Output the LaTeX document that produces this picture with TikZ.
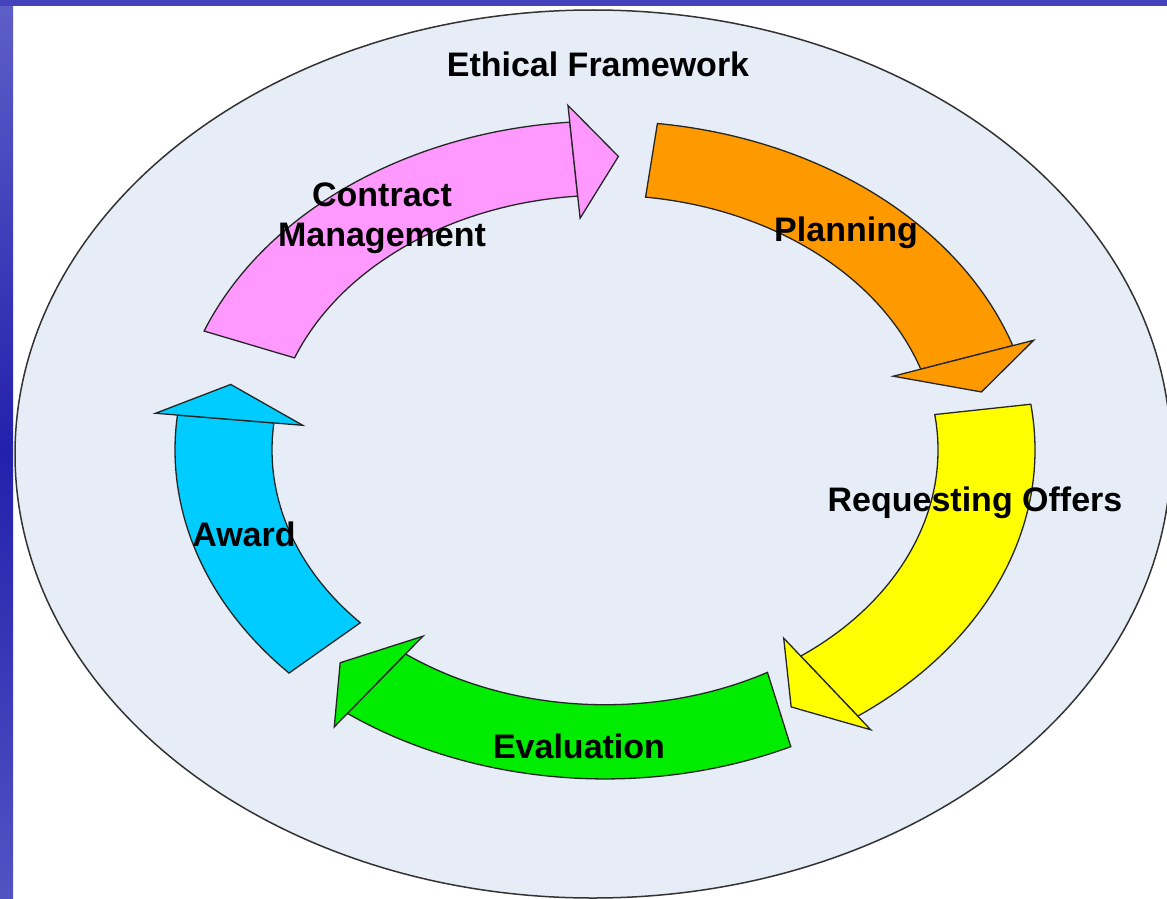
\documentclass[tikz,border=0pt]{standalone}
\usepackage{fontspec}
\setmainfont{Liberation Sans}
\definecolor{bgell}{RGB}{230,237,247}
\definecolor{pinkseg}{RGB}{255,153,255}
\definecolor{orangeseg}{RGB}{255,153,0}
\definecolor{yellowseg}{RGB}{255,255,0}
\definecolor{greenseg}{RGB}{0,236,0}
\definecolor{blueseg}{RGB}{0,204,255}
\definecolor{frameblueA}{RGB}{95,95,200}
\definecolor{frameblueB}{RGB}{35,32,172}
\definecolor{frameblueC}{RGB}{68,66,188}
\tikzset{
  segstyle/.style={draw=black!85, line width=1.3pt, line join=miter},
  lbl/.style={font=\bfseries\fontsize{34}{40}\selectfont, text=black, inner sep=0pt, align=center}
}
% #1 colour, #2 outer start angle, #3 inner start angle, #4 head base angle, #5 tip angle
\newcommand{\arrseg}[5]{%
  \filldraw[segstyle, fill=#1] (#2:430) arc[start angle=#2, end angle=#4, radius=430] -- (#4:333) arc[start angle=#4, end angle=#3, radius=333] -- cycle;
  \filldraw[segstyle, fill=#1] (#4:452) -- (#5:384) -- (#4:304) -- cycle;
}
\begin{document}
\begin{tikzpicture}[x=1pt,y=-1pt]
\useasboundingbox (0,0) rectangle (1167,899);
\clip (0,0) rectangle (1167,899);
% frame
\fill[white] (0,0) rectangle (1167,899);
\shade[top color=frameblueA, bottom color=frameblueB] (0,0) rectangle (13,450);
\shade[top color=frameblueB, bottom color=frameblueA!80!frameblueB] (0,450) rectangle (13,899);
\fill[frameblueC] (0,0) rectangle (1167,6);
% outer ellipse
\filldraw[fill=bgell, draw=black!80, line width=1.5pt] (593,454) ellipse [x radius=578, y radius=444];
% ring segments
\begin{scope}[shift={(605,450)}, yscale=-0.765]
  \arrseg{pinkseg}{158.8}{158.8}{94.7}{88}
  \arrseg{orangeseg}{83}{83}{18.5}{11.4}
  \arrseg{yellowseg}{8}{8}{-54}{-61}
  \arrseg{greenseg}{-64.4}{-60.8}{-126.8}{-133.6}
  \arrseg{blueseg}{-137.3}{-137.3}{-186.1}{-192.9}
\end{scope}
% labels
\node[lbl] (ethical) at (598,64) {Ethical Framework};
\node[lbl] (contract) at (382,218) {Contract\\Management};
\node[lbl] (planning) at (846,233) {Planning};
\node[lbl] (requesting) at (975,503) {Requesting Offers};
\node[lbl] (award) at (244,534) {Award};
\node[lbl] (evaluation) at (579,746) {Evaluation};
\end{tikzpicture}
\end{document}
